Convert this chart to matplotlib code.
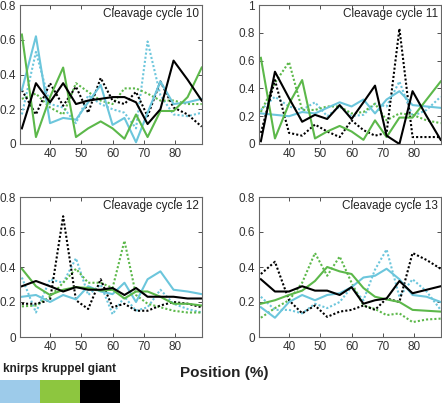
import matplotlib
matplotlib.use("Agg")
import matplotlib.pyplot as plt
from matplotlib.patches import Rectangle

plt.rcParams["font.family"] = ["Liberation Sans", "DejaVu Sans"]

# Positions along the embryo (%)
pos = [31, 35.5, 40, 44.2, 48.3, 52.2, 56.2, 60, 63.8, 67.5, 71.2, 75.3, 79.5, 84, 88.5]

titles = ["Cleavage cycle 10", "Cleavage cycle 11", "Cleavage cycle 12", "Cleavage cycle 13"]
ymax = [0.8, 1.0, 0.8, 0.8]

# cycle 10
kni10 = [0.31, 0.62, 0.12, 0.15, 0.14, 0.24, 0.34, 0.11, 0.15, 0.01, 0.18, 0.36, 0.23, 0.24, 0.26]
kni10_d = [0.17, 0.53, 0.23, 0.21, 0.12, 0.28, 0.23, 0.20, 0.18, 0.09, 0.59, 0.28, 0.17, 0.16, 0.18]
kr10 = [0.63, 0.04, 0.27, 0.44, 0.04, 0.09, 0.13, 0.09, 0.03, 0.17, 0.04, 0.19, 0.19, 0.27, 0.44]
kr10_d = [0.26, 0.29, 0.21, 0.17, 0.35, 0.30, 0.25, 0.23, 0.32, 0.32, 0.29, 0.25, 0.25, 0.23, 0.23]
gt10 = [0.09, 0.35, 0.24, 0.35, 0.23, 0.25, 0.26, 0.27, 0.27, 0.24, 0.115, 0.20, 0.48, 0.37, 0.25]
gt10_d = [0.31, 0.17, 0.35, 0.22, 0.33, 0.18, 0.38, 0.25, 0.23, 0.30, 0.16, 0.36, 0.21, 0.17, 0.10]

# cycle 11
kni11 = [0.22, 0.21, 0.20, 0.23, 0.22, 0.26, 0.30, 0.27, 0.32, 0.22, 0.32, 0.38, 0.28, 0.27, 0.26]
kni11_d = [0.245, 0.34, 0.27, 0.245, 0.30, 0.20, 0.27, 0.20, 0.21, 0.29, 0.27, 0.45, 0.20, 0.245, 0.34]
kr11 = [0.62, 0.04, 0.29, 0.46, 0.04, 0.09, 0.13, 0.09, 0.03, 0.17, 0.05, 0.19, 0.19, 0.32, 0.45]
kr11_d = [0.23, 0.44, 0.59, 0.245, 0.245, 0.27, 0.27, 0.22, 0.23, 0.29, 0.17, 0.22, 0.21, 0.17, 0.15]
gt11 = [0.02, 0.52, 0.33, 0.16, 0.21, 0.18, 0.28, 0.18, 0.30, 0.42, 0.06, 0.0, 0.38, 0.20, 0.03]
gt11_d = [0.08, 0.46, 0.08, 0.06, 0.14, 0.09, 0.05, 0.17, 0.10, 0.06, 0.08, 0.83, 0.05, 0.05, 0.05]

# cycle 12
kni12 = [0.23, 0.24, 0.20, 0.24, 0.215, 0.29, 0.26, 0.245, 0.31, 0.20, 0.33, 0.375, 0.27, 0.26, 0.245]
kni12_d = [0.34, 0.14, 0.33, 0.31, 0.45, 0.24, 0.30, 0.13, 0.23, 0.15, 0.17, 0.27, 0.19, 0.16, 0.14]
kr12 = [0.39, 0.29, 0.24, 0.27, 0.285, 0.28, 0.265, 0.27, 0.22, 0.26, 0.26, 0.23, 0.19, 0.19, 0.18]
kr12_d = [0.175, 0.18, 0.23, 0.31, 0.39, 0.31, 0.31, 0.28, 0.55, 0.24, 0.19, 0.17, 0.15, 0.14, 0.14]
gt12 = [0.29, 0.32, 0.29, 0.26, 0.285, 0.27, 0.27, 0.28, 0.24, 0.28, 0.23, 0.23, 0.23, 0.22, 0.22]
gt12_d = [0.19, 0.19, 0.21, 0.69, 0.21, 0.16, 0.33, 0.17, 0.19, 0.15, 0.15, 0.18, 0.20, 0.19, 0.17]

# cycle 13
kni13 = [0.17, 0.11, 0.20, 0.24, 0.21, 0.24, 0.25, 0.285, 0.34, 0.35, 0.39, 0.33, 0.24, 0.23, 0.20]
kni13_d = [0.23, 0.155, 0.155, 0.135, 0.19, 0.165, 0.20, 0.285, 0.21, 0.385, 0.50, 0.23, 0.33, 0.26, 0.155]
kr13 = [0.19, 0.21, 0.24, 0.265, 0.32, 0.40, 0.375, 0.36, 0.28, 0.23, 0.215, 0.20, 0.155, 0.15, 0.145]
kr13_d = [0.11, 0.165, 0.21, 0.31, 0.48, 0.35, 0.46, 0.31, 0.18, 0.16, 0.125, 0.135, 0.085, 0.10, 0.105]
gt13 = [0.33, 0.26, 0.26, 0.29, 0.265, 0.265, 0.24, 0.285, 0.19, 0.21, 0.22, 0.32, 0.25, 0.27, 0.29]
gt13_d = [0.36, 0.43, 0.21, 0.135, 0.18, 0.115, 0.145, 0.155, 0.18, 0.155, 0.22, 0.20, 0.48, 0.44, 0.39]

panels = [
    (kni10, kni10_d, kr10, kr10_d, gt10, gt10_d),
    (kni11, kni11_d, kr11, kr11_d, gt11, gt11_d),
    (kni12, kni12_d, kr12, kr12_d, gt12, gt12_d),
    (kni13, kni13_d, kr13, kr13_d, gt13, gt13_d),
]

c_kni = "#6cc6dc"
c_kr = "#5cb84a"
c_gt = "#000000"

fig = plt.figure(figsize=(4.42, 4.03), dpi=100)

rects = [
    [20 / 442, 1 - 144 / 403, 182 / 442, 139 / 403],
    [259 / 442, 1 - 144 / 403, 182 / 442, 139 / 403],
    [20 / 442, 1 - 337 / 403, 182 / 442, 140 / 403],
    [259 / 442, 1 - 337 / 403, 182 / 442, 140 / 403],
]

for i, (kni, kni_d, kr, kr_d, gt, gt_d) in enumerate(panels):
    ax = fig.add_axes(rects[i])
    ax.plot(pos, kni_d, color=c_kni, lw=1.5, ls=(0, (1, 1)))
    ax.plot(pos, kr_d, color=c_kr, lw=1.5, ls=(0, (1, 1)))
    ax.plot(pos, gt_d, color=c_gt, lw=1.5, ls=(0, (1, 1)))
    ax.plot(pos, kni, color=c_kni, lw=1.5)
    ax.plot(pos, kr, color=c_kr, lw=1.5)
    ax.plot(pos, gt, color=c_gt, lw=1.5)
    ax.set_xlim(30.4, 88.6)
    ax.set_ylim(0, ymax[i])
    ax.set_xticks([40, 50, 60, 70, 80])
    if ymax[i] == 1.0:
        ax.set_yticks([0, 0.2, 0.4, 0.6, 0.8, 1.0])
        ax.set_yticklabels(["0", "0.2", "0.4", "0.6", "0.8", "1"])
    else:
        ax.set_yticks([0, 0.2, 0.4, 0.6, 0.8])
        ax.set_yticklabels(["0", "0.2", "0.4", "0.6", "0.8"])
    ax.tick_params(direction="in", length=3, width=0.6, top=True, right=True,
                   labelsize=8.5, colors="#333333", pad=3)
    for s in ax.spines.values():
        s.set_color("#666666")
        s.set_linewidth(0.8)
    ax.text(0.985, 0.935, titles[i], transform=ax.transAxes, ha="right", va="center",
            fontsize=8.5, color="#222222")

# colour key in the lower left corner
key = fig.add_axes([0, 0, 1, 1], facecolor="none")
key.set_xlim(0, 442)
key.set_ylim(403, 0)
key.axis("off")
key_colors = ["#9dcbea", "#8dc63f", "#000000"]
for j, kc in enumerate(key_colors):
    key.add_patch(Rectangle((j * 40, 380), 40, 23, color=kc, lw=0))
key.text(3, 369, "knirps kruppel giant", ha="left", va="center",
         fontsize=8.5, fontweight="bold", color="#222222")
key.text(224, 373, "Position (%)", ha="center", va="center",
         fontsize=11, fontweight="bold", color="#222222")

fig.savefig("out.png", dpi=100)
